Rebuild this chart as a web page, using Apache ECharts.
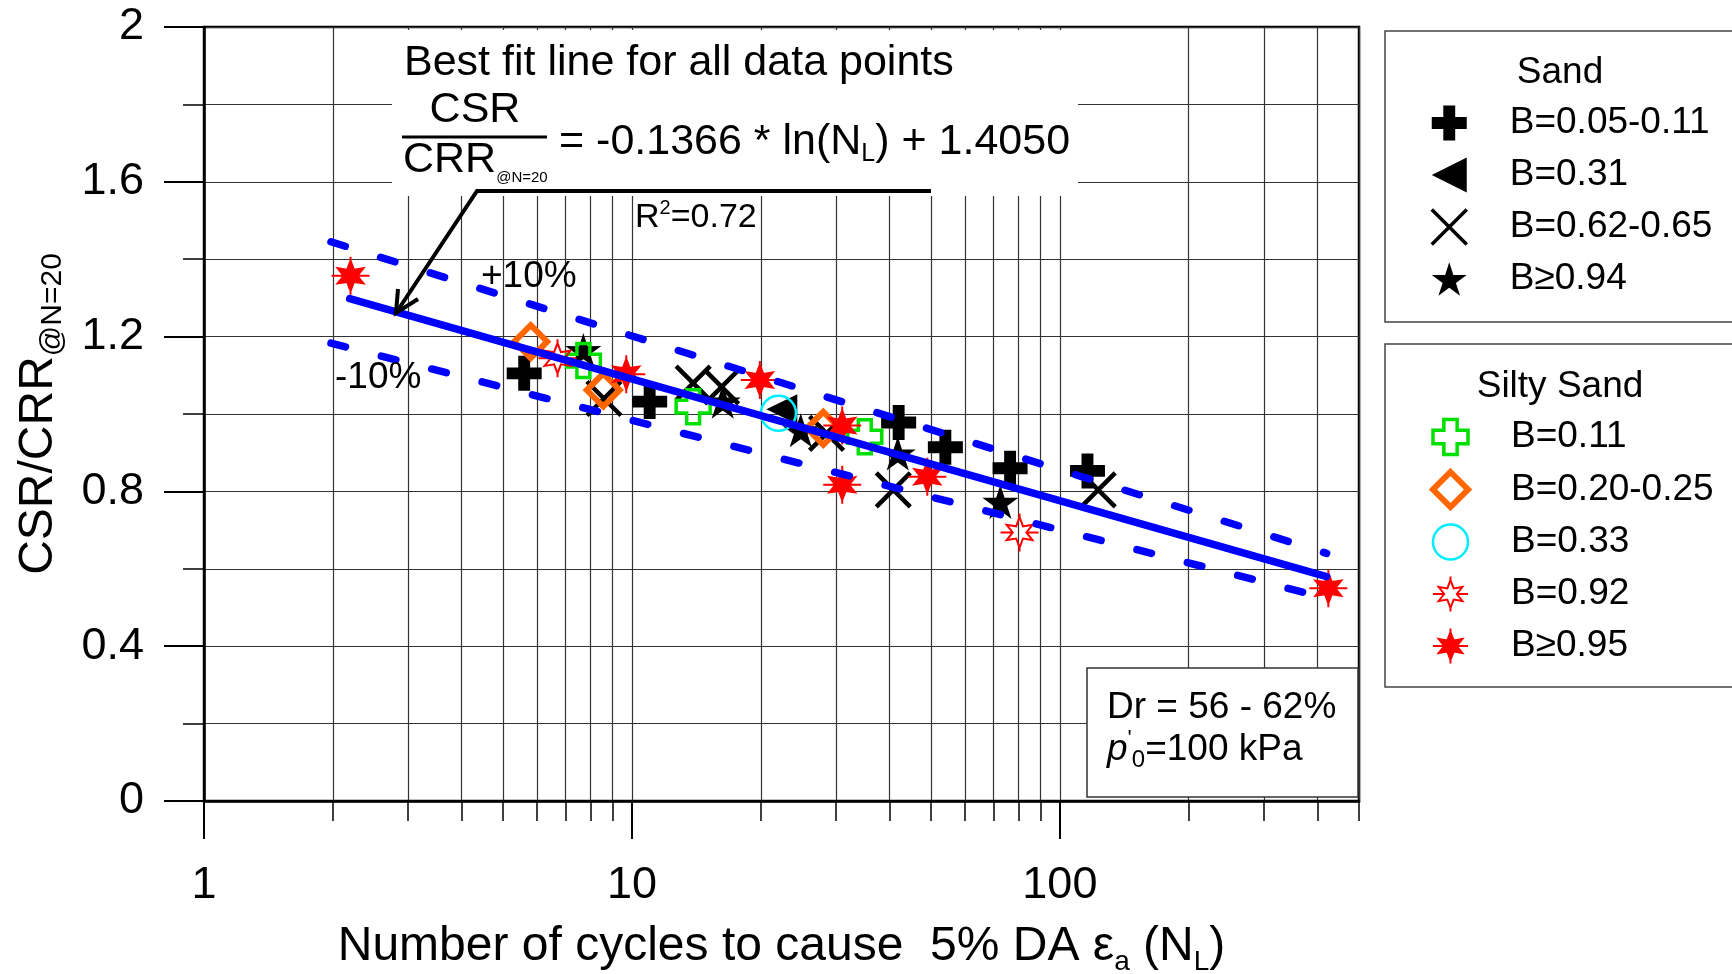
<!DOCTYPE html>
<html><head><meta charset="utf-8">
<script src="https://cdn.jsdelivr.net/npm/echarts@6/dist/echarts.min.js"></script>
<style>html,body{margin:0;padding:0;background:#fff;} #c{width:1732px;height:974px;}</style>
</head><body><div id="c"></div>
<script>
const FONT = '"Liberation Sans", Arial, Helvetica, sans-serif';

// ---- Data: [N_L, CSR/CRR@N=20] ----
const sandB005_011 = [[5.6,1.105],[11.0,1.032],[42.0,0.978],[54.0,0.914],[76.5,0.860],[116,0.853]];
const sandB031     = [[22.4,1.012]];
const sandB062_065 = [[8.6,1.040],[13.9,1.080],[16.2,1.070],[28.5,0.950],[40.8,0.804],[122.9,0.804]];
const sandB094     = [[7.7,1.165],[16.3,1.032],[24.8,0.958],[41.8,0.898],[72.6,0.773]];
const siltyB011     = [[7.7,1.138],[13.9,1.019],[35.0,0.941]];
const siltyB020_025 = [[5.8,1.187],[8.57,1.062],[28.0,0.963]];
const siltyB033     = [[22.0,1.002]];
const siltyB092     = [[6.7,1.144],[80.5,0.694]];
const siltyB095     = [[2.2,1.357],[9.7,1.103],[19.9,1.088],[31.0,0.970],[31.0,0.817],[49.0,0.838],[424,0.550]];

// best-fit line and +/-10% band end points
const fitLine = [[2.19,1.298],[420,0.580]];
const upper10 = [[1.98,1.445],[420,0.640]];
const lower10 = [[1.98,1.183],[420,0.524]];

// axis ticks / labels
const xMajorTicks = [1,10,100];
const xMinorTicks = [2,3,4,5,6,7,8,9,20,30,40,50,60,70,80,90,200,300,400,500];
const xLabels = [1,10,100];
const yTickStep = 0.4;

// legend names
const sandNames  = ['B=0.05-0.11','B=0.31','B=0.62-0.65','B\u22650.94'];
const siltyNames = ['B=0.11','B=0.20-0.25','B=0.33','B=0.92','B\u22650.95'];

// ---- symbols ----
const symPlus  = 'path://M33,0 L67,0 L67,33 L100,33 L100,67 L67,67 L67,100 L33,100 L33,67 L0,67 L0,33 L33,33 Z';
const symCross = 'path://M31,0 L69,0 L69,31 L100,31 L100,69 L69,69 L69,100 L31,100 L31,69 L0,69 L0,31 L31,31 Z';
const symX     = 'path://M0,0 L100,100 M100,0 L0,100';
const symStar5 = 'path://M50,0 L61.17,34.63 L97.55,34.55 L68.07,55.87 L79.39,90.45 L50,69 L20.61,90.45 L31.93,55.87 L2.45,34.55 L38.83,34.63 Z';
const symTri   = 'path://M0,50 L100,0 L100,100 Z';
const symStar6 = 'path://M50,10 L59,34 L84,30 L68,50 L84,70 L59,66 L50,90 L41,66 L16,70 L32,50 L16,30 L41,34 Z M50,0 L50,10 M50,90 L50,100 M0,50 L32,50 M68,50 L100,50';

const CLEAR = 'rgba(0,0,0,0)';
function sc(name, data, symbol, size, itemStyle) {
  return { type:'scatter', name, data, symbol, symbolSize:size, symbolKeepAspect:true,
           itemStyle:Object.assign({opacity:1}, itemStyle), z:3, silent:true, emphasis:{disabled:true} };
}

const series = [
  sc(sandNames[0], sandB005_011, symPlus, 35, {color:'#000'}),
  sc(sandNames[1], sandB031, symTri, [31,30], {color:'#000'}),
  sc(sandNames[2], sandB062_065, symX, 34, {color:CLEAR, borderColor:'#000', borderWidth:4.5}),
  sc(sandNames[3], sandB094, symStar5, 36, {color:'#000'}),
  sc(siltyNames[0], siltyB011, symCross, 34, {color:CLEAR, borderColor:'#00e000', borderWidth:3.5}),
  sc(siltyNames[1], siltyB020_025, 'diamond', 33, {color:CLEAR, borderColor:'#ff6600', borderWidth:6}),
  sc(siltyNames[2], siltyB033, 'circle', 35, {color:CLEAR, borderColor:'#00eeff', borderWidth:2.5}),
  sc(siltyNames[3], siltyB092, symStar6, 38, {color:CLEAR, borderColor:'#ff0000', borderWidth:2}),
  sc(siltyNames[4], siltyB095, symStar6, 38, {color:'#ff0000', borderColor:'#ff0000', borderWidth:2}),
  { type:'line', data:fitLine, symbol:'none', z:4, silent:true,
    lineStyle:{color:'#0000ff', width:7.5, cap:'round', opacity:1} },
  { type:'line', data:upper10, symbol:'none', z:4, silent:true,
    lineStyle:{color:'#0000ff', width:7.5, type:[15,37], cap:'round', opacity:1} },
  { type:'line', data:lower10, symbol:'none', z:4, silent:true,
    lineStyle:{color:'#0000ff', width:7.5, type:[15,37], cap:'round', opacity:1} }
];

const legendText = {fontSize:37, fontFamily:FONT, color:'#000', lineHeight:40, padding:[0,0,0,38]};
function legendData(names, styles) { return names.map((n,i)=>({name:n, itemStyle:Object.assign({opacity:1}, styles[i])})); }

const GRID = '#333';
const option = {
  animation:false,
  backgroundColor:'#fff',
  textStyle:{fontFamily:FONT},
  grid:{left:204, right:373, top:27, bottom:173, show:true, borderColor:'#000', borderWidth:2.5,
        backgroundColor:'rgba(0,0,0,0)', containLabel:false, outerBoundsMode:'none'},
  xAxis:[
    { type:'log', logBase:10, min:1, max:500, position:'bottom',
      axisLine:{show:true, onZero:false, lineStyle:{color:'#000', width:2.5}},
      axisTick:{show:true, customValues:xMajorTicks, length:38, inside:false, lineStyle:{color:'#000', width:2}},
      axisLabel:{show:true, customValues:xLabels, margin:62, fontSize:45, fontFamily:FONT, color:'#000'},
      splitLine:{show:true, lineStyle:{color:GRID, width:1.2}},
      minorTick:{show:false}, minorSplitLine:{show:false},
      name:'{t|Number of cycles to cause  5% DA \u03b5}{s|a}{t| (N}{s|L}{t|)}',
      nameLocation:'middle', nameGap:117,
      nameTextStyle:{color:'#000', fontFamily:FONT, rich:{
        t:{fontSize:48, fontFamily:FONT, color:'#000', lineHeight:58},
        s:{fontSize:28, fontFamily:FONT, color:'#000', lineHeight:28, verticalAlign:'bottom'}}}
    },
    { type:'log', logBase:10, min:1, max:500, position:'bottom',
      axisLine:{show:false},
      axisTick:{show:true, customValues:xMinorTicks, length:20, inside:false, lineStyle:{color:'#000', width:1.5}},
      axisLabel:{show:false},
      splitLine:{show:true, lineStyle:{color:GRID, width:1.2}},
      minorTick:{show:false}, minorSplitLine:{show:false}
    }
  ],
  yAxis:[
    { type:'value', min:0, max:2, interval:yTickStep, position:'left',
      axisLine:{show:true, onZero:false, lineStyle:{color:'#000', width:2.5}},
      axisTick:{show:true, length:40, inside:false, lineStyle:{color:'#000', width:2}},
      minorTick:{show:true, splitNumber:2, length:21, lineStyle:{color:'#000', width:1.5}},
      axisLabel:{margin:60, fontSize:45, fontFamily:FONT, color:'#000'},
      splitLine:{show:true, lineStyle:{color:GRID, width:1.2}},
      minorSplitLine:{show:true, lineStyle:{color:GRID, width:1.2}},
      name:'{t|CSR/CRR}{s|@N=20}', nameLocation:'middle', nameRotate:90, nameGap:136,
      nameTextStyle:{color:'#000', fontFamily:FONT, rich:{
        t:{fontSize:48, fontFamily:FONT, color:'#000', lineHeight:58},
        s:{fontSize:30, fontFamily:FONT, color:'#000', lineHeight:30, verticalAlign:'bottom'}}}
    }
  ],
  legend:[
    { orient:'vertical', left:1430, top:103, itemWidth:35, itemHeight:35, itemGap:12, padding:0,
      selectedMode:false, textStyle:legendText,
      data:legendData(sandNames, [{}, {}, {borderWidth:3.5}, {}]) },
    { orient:'vertical', left:1430, top:417, itemWidth:35, itemHeight:35, itemGap:12, padding:0,
      selectedMode:false, textStyle:legendText,
      data:legendData(siltyNames, [{borderWidth:3.5},{borderWidth:6},{borderWidth:2.5},{borderWidth:2},{borderWidth:2}]) }
  ],
  graphic:[
    // legend frames
    {type:'rect', shape:{x:1385, y:31, width:420, height:291}, style:{fill:'#fff', stroke:'#444', lineWidth:1.5}, z:-1},
    {type:'rect', shape:{x:1385, y:344, width:420, height:343}, style:{fill:'#fff', stroke:'#444', lineWidth:1.5}, z:-1},
    {type:'text', x:1560, y:73, style:{text:'Sand', fontSize:37, fontFamily:FONT, fill:'#000', align:'center', verticalAlign:'middle'}, z:6},
    {type:'text', x:1560, y:387, style:{text:'Silty Sand', fontSize:37, fontFamily:FONT, fill:'#000', align:'center', verticalAlign:'middle'}, z:6},
    // equation block
    {type:'rect', shape:{x:392, y:30, width:686, height:166}, style:{fill:'#fff'}, z:5},
    {type:'text', x:404, y:63, style:{text:'Best fit line for all data points', fontSize:43, fontFamily:FONT, fill:'#000', align:'left', verticalAlign:'middle'}, z:6},
    {type:'text', x:475, y:110, style:{text:'CSR', fontSize:43, fontFamily:FONT, fill:'#000', align:'center', verticalAlign:'middle'}, z:6},
    {type:'line', shape:{x1:402, y1:137, x2:547, y2:137}, style:{stroke:'#000', lineWidth:3}, z:6},
    {type:'text', x:403, y:160, style:{text:'{a|CRR}{b|@N=20}', fill:'#000', align:'left', verticalAlign:'middle',
       rich:{a:{fontSize:43, fontFamily:FONT, fill:'#000', lineHeight:50}, b:{fontSize:15, fontFamily:FONT, fill:'#000', lineHeight:15, verticalAlign:'bottom'}}}, z:6},
    {type:'text', x:559, y:142, style:{text:'{a|= -0.1366 * ln(N}{b|L}{a|) + 1.4050}', fill:'#000', align:'left', verticalAlign:'middle',
       rich:{a:{fontSize:43, fontFamily:FONT, fill:'#000', lineHeight:50}, b:{fontSize:25, fontFamily:FONT, fill:'#000', lineHeight:25, verticalAlign:'bottom'}}}, z:6},
    {type:'polyline', shape:{points:[[931,191],[477,191],[396,313]]}, style:{stroke:'#000', lineWidth:4, fill:null}, z:6},
    {type:'polyline', shape:{points:[[418,299],[396,313],[398,289]]}, style:{stroke:'#000', lineWidth:4, fill:null}, z:6},
    {type:'text', x:635, y:218, style:{text:'{a|R}{b|2}{a|=0.72}', fill:'#000', align:'left', verticalAlign:'middle',
       rich:{a:{fontSize:34, fontFamily:FONT, fill:'#000', lineHeight:40}, b:{fontSize:20, fontFamily:FONT, fill:'#000', lineHeight:20, verticalAlign:'top'}}}, z:6},
    {type:'text', x:481, y:277, style:{text:'+10%', fontSize:37, fontFamily:FONT, fill:'#000', align:'left', verticalAlign:'middle'}, z:6},
    {type:'text', x:335, y:378, style:{text:'-10%', fontSize:37, fontFamily:FONT, fill:'#000', align:'left', verticalAlign:'middle'}, z:6},
    // conditions box
    {type:'rect', shape:{x:1087, y:668, width:271, height:129}, style:{fill:'#fff', stroke:'#333', lineWidth:1.5}, z:5},
    {type:'text', x:1107, y:708, style:{text:'Dr = 56 - 62%', fontSize:37, fontFamily:FONT, fill:'#000', align:'left', verticalAlign:'middle'}, z:6},
    {type:'text', x:1107, y:750, style:{text:"{i|p}{p|'}{s|0}{a|=100 kPa}", fill:'#000', align:'left', verticalAlign:'middle',
       rich:{i:{fontSize:37, fontStyle:'italic', fontFamily:FONT, fill:'#000', lineHeight:44},
             p:{fontSize:22, fontFamily:FONT, fill:'#000', lineHeight:22, verticalAlign:'top'},
             s:{fontSize:24, fontFamily:FONT, fill:'#000', lineHeight:24, verticalAlign:'bottom'},
             a:{fontSize:37, fontFamily:FONT, fill:'#000', lineHeight:44}}}, z:6}
  ],
  series
};

const chart = echarts.init(document.getElementById('c'), null, {renderer:'canvas'});
chart.setOption(option);
</script>
</body></html>
